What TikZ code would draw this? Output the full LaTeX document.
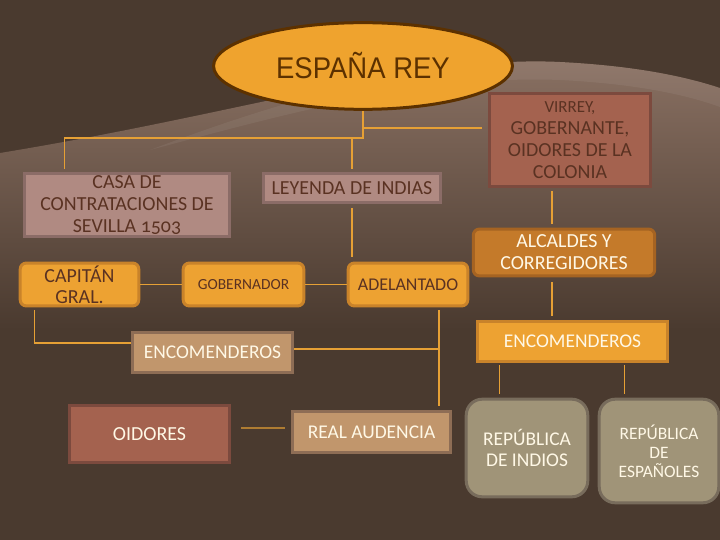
\documentclass[tikz,border=0pt]{standalone}
\usepackage{fontspec}
\setmainfont{Carlito}
\newfontfamily\reyfont[FakeStretch=0.92]{Liberation Sans}
\usepackage{tikz}
\usetikzlibrary{shapes.geometric}

\definecolor{bgDark}{HTML}{4A3A2F}
\definecolor{swoosh}{HTML}{8A7163}
\definecolor{linkCol}{HTML}{E6A035}
\definecolor{reyFill}{HTML}{EFA32E}
\definecolor{reyLine}{HTML}{5C3100}
\definecolor{rojoFill}{HTML}{A4624F}
\definecolor{rojoLine}{HTML}{7C4A3E}
\definecolor{rosaFill}{HTML}{B08A82}
\definecolor{rosaLine}{HTML}{8B6C67}
\definecolor{naraFill}{HTML}{EDA232}
\definecolor{naraLine}{HTML}{C9832A}
\definecolor{ocreFill}{HTML}{C47A2A}
\definecolor{ocreLine}{HTML}{A56322}
\definecolor{tanFill}{HTML}{C1966C}
\definecolor{tanLine}{HTML}{8E6D55}
\definecolor{grisFill}{HTML}{A09478}
\definecolor{grisLine}{HTML}{786C5C}
\definecolor{txtDark}{HTML}{5A3222}
\definecolor{txtLight}{HTML}{FFF8E6}

\tikzset{
    box/.style={rectangle,line width=3bp,inner sep=0pt,align=center},
    link/.style={draw=linkCol,line width=1.2bp}
}

\begin{document}
\begin{tikzpicture}[x=1bp,y=-1bp]
\useasboundingbox (0,0) rectangle (720,540);
% background
\fill[bgDark] (0,0) rectangle (720,540);
\shade[top color=swoosh,bottom color=bgDark]
    (0,153) .. controls (250,112) and (420,55) .. (560,62)
    .. controls (640,66) and (690,78) .. (720,88) -- (720,330) -- (0,330) -- cycle;
\fill[white,opacity=0.06]
    (150,150) .. controls (300,110) and (430,75) .. (560,80)
    .. controls (640,84) and (690,96) .. (720,107) -- (720,88)
    .. controls (690,78) and (640,66) .. (560,62)
    .. controls (420,55) and (250,112) .. (150,150) -- cycle;

\node (rey)[ellipse,draw=reyLine,line width=3bp,fill=reyFill,minimum width=300,minimum height=87,
    inner sep=0pt,text=reyLine,font=\reyfont\fontsize{30}{32}\selectfont] at (363,66) {ESPAÑA REY};

\begin{scope}[every node/.style={box,draw=rosaLine,fill=rosaFill,text=txtDark,font=\fontsize{20}{22}\selectfont}]
    \node (casa)[minimum width=206,minimum height=64] at (127,205) {CASA DE\\CONTRATACIONES DE\\SEVILLA {\addfontfeatures{Numbers=OldStyle}1503}};
    \node (leyenda)[minimum width=178,minimum height=30] at (352,188) {LEYENDA DE INDIAS};
    \node (virrey)[draw=rojoLine,fill=rojoFill,minimum width=161,minimum height=94,
        font=\fontsize{20}{22}\selectfont] at (570,140) {{\fontsize{17}{18}\selectfont VIRREY,}\\GOBERNANTE,\\OIDORES DE LA\\COLONIA};
\end{scope}

\begin{scope}[every node/.style={box,draw=naraLine,fill=naraFill,text=txtDark,rounded corners=6bp,
    minimum height=43,font=\fontsize{20}{21}\selectfont}]
    \node (capitan)[minimum width=119] at (79.5,284.5) {CAPITÁN\\GRAL.};
    \node (gobernador)[minimum width=121,font=\fontsize{15.5}{17}\selectfont] at (243.5,284.5) {GOBERNADOR};
    \node (adelantado)[minimum width=120,font=\fontsize{18}{20}\selectfont] at (408,284.5) {ADELANTADO};
    \node (alcaldes)[draw=ocreLine,fill=ocreFill,text=txtLight,minimum width=182,minimum height=47,
        font=\fontsize{20}{22}\selectfont] at (564,252.5) {ALCALDES Y\\CORREGIDORES};
\end{scope}

\begin{scope}[every node/.style={box,text=txtLight,font=\fontsize{19.5}{21}\selectfont}]
    \node (encoR)[draw=naraLine,fill=naraFill,minimum width=191,minimum height=41] at (572.5,341.5) {ENCOMENDEROS};
    \node (encoL)[draw=tanLine,fill=tanFill,minimum width=161,minimum height=41] at (212.5,352.5) {ENCOMENDEROS};
    \node (oidores)[draw=rojoLine,fill=rojoFill,minimum width=161,minimum height=58,
        font=\fontsize{20}{22}\selectfont] at (149.5,434) {OIDORES};
    \node (audiencia)[draw=tanLine,fill=tanFill,minimum width=159,minimum height=42] at (371.5,432) {REAL AUDENCIA};
    \node (repIndios)[draw=grisLine,fill=grisFill,rounded corners=16bp,minimum width=122,minimum height=98] at (527,448) {REPÚBLICA\\DE INDIOS};
    \node (repEsp)[draw=grisLine,fill=grisFill,rounded corners=16bp,minimum width=120,minimum height=104,
        font=\fontsize{17.5}{19}\selectfont] at (659,451) {REPÚBLICA\\DE\\ESPAÑOLES};
\end{scope}

% connectors
\coordinate (jr) at (363,138);
\coordinate (jv) at (363,128);
\coordinate (colV) at (552,0);
\coordinate (colA) at (439,0);
\coordinate (jl) at ([yshift=3.5bp]encoL.east);
\draw[link] (rey.south) -- (jr) -| ([xshift=42bp,yshift=3bp]casa.north west);
\draw[link] (jr) -| ([yshift=3bp]leyenda.north);
\draw[link,shorten >=6bp] (jv) -- (virrey.west |- jv);
\draw[link,shorten <=3bp,shorten >=4bp] (virrey.south -| colV) -- (alcaldes.north -| colV);
\draw[link,shorten <=5bp,shorten >=4bp] (alcaldes.south -| colV) -- (encoR.north -| colV);
\draw[link,shorten <=4bp,shorten >=5bp] (leyenda.south) -- (leyenda.south |- adelantado.north);
\draw[link] (capitan) -- (gobernador);
\draw[link] (gobernador) -- (adelantado);
\draw[link,shorten <=3bp] ([xshift=16bp]capitan.south west) |- ([yshift=9.5bp]encoL.west);
\draw[link,shorten <=3bp,shorten >=4bp] (adelantado.south -| colA) -- (audiencia.north -| colA);
\draw[link] (jl) -- (jl -| colA);
\draw[link,shorten <=10bp,shorten >=6bp] ([yshift=6bp]oidores.east) -- ([yshift=4bp]audiencia.west);
\draw[link,shorten <=2bp,shorten >=4bp] ([xshift=24bp]encoR.south west) -- ([xshift=24bp]encoR.south west |- repIndios.north);
\draw[link,shorten <=2bp,shorten >=4bp] ([xshift=149bp]encoR.south west) -- ([xshift=149bp]encoR.south west |- repEsp.north);
\end{tikzpicture}
\end{document}
